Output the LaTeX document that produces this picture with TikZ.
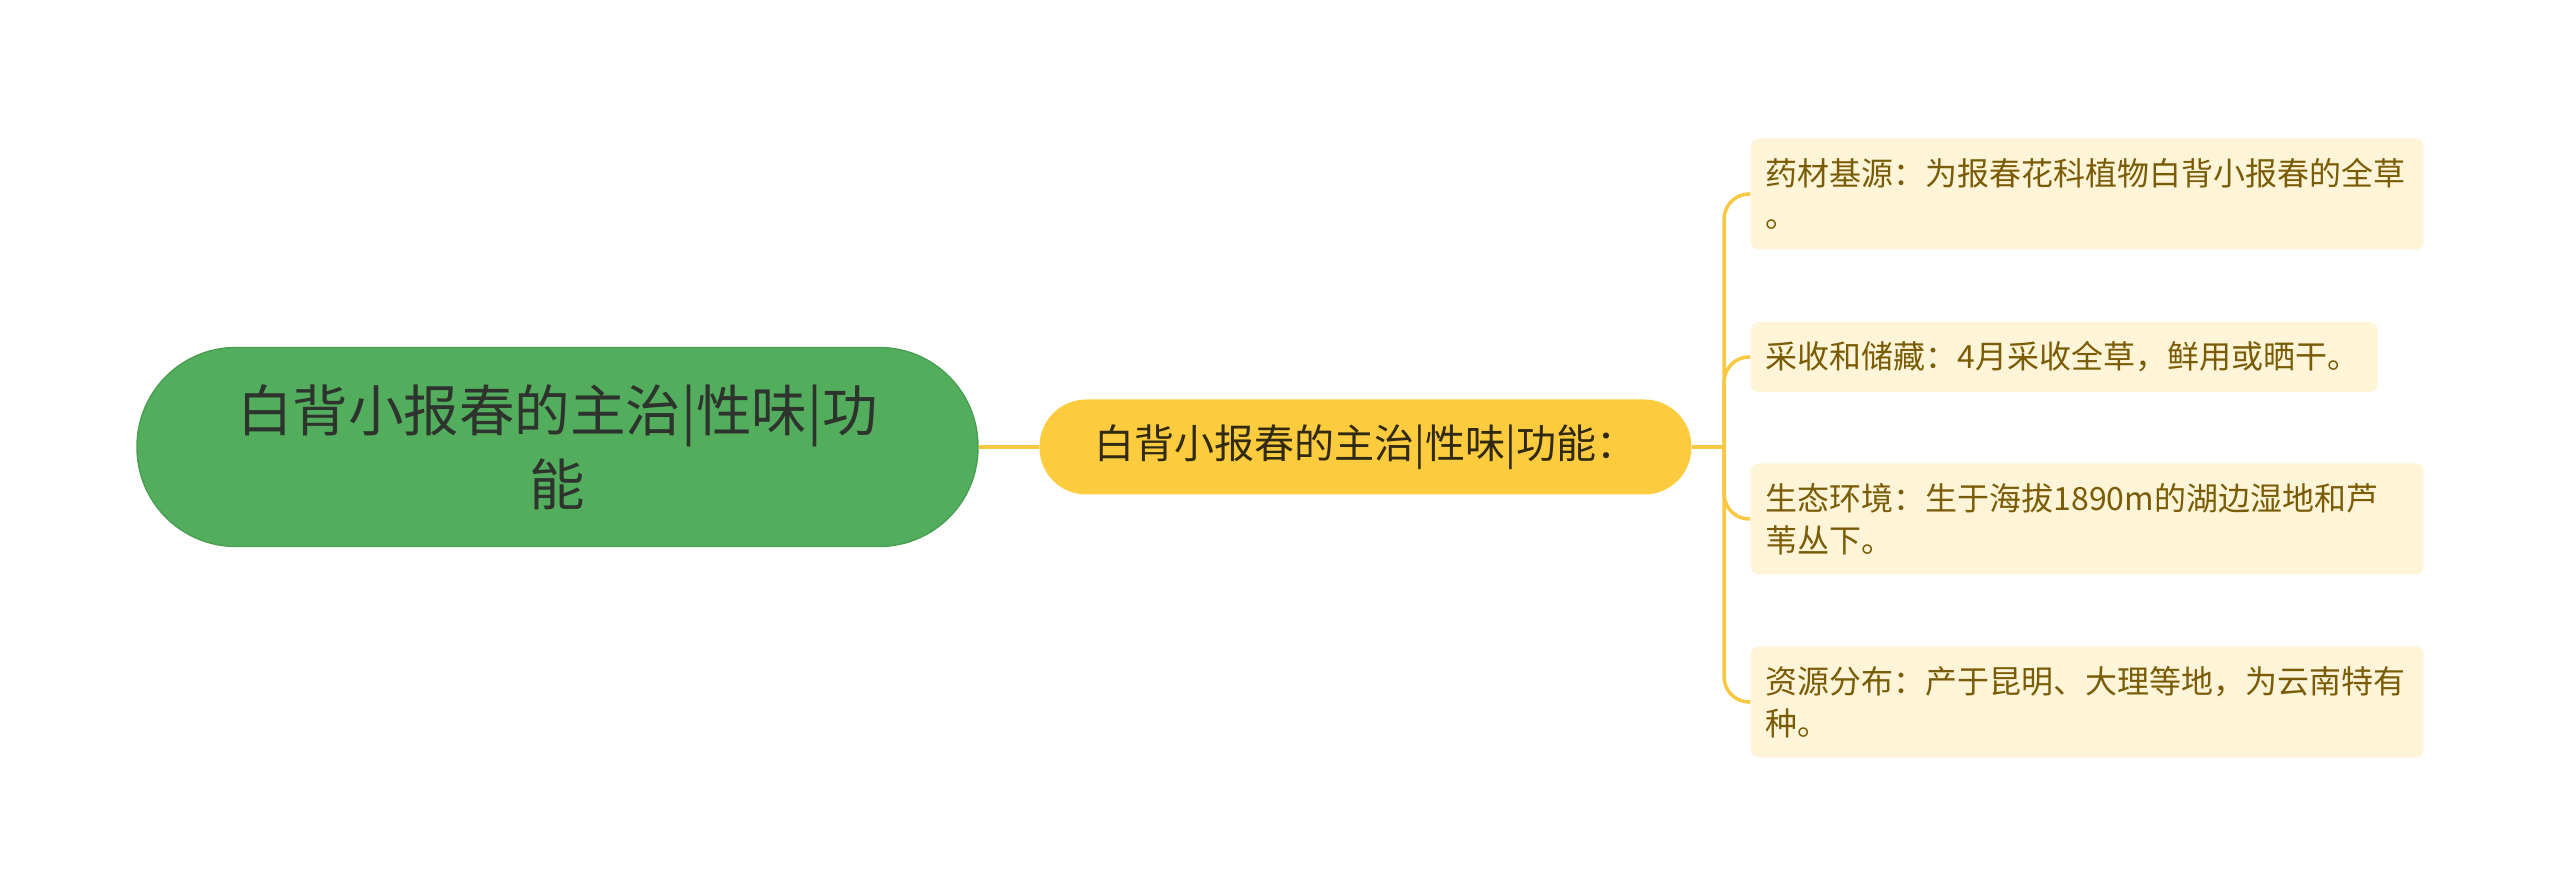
\documentclass[tikz,border=0pt]{standalone}
\usepackage{fontspec}
\setmainfont{Noto Sans CJK SC}
\usepackage{tikz}
\usetikzlibrary{positioning}
\definecolor{rootgreen}{HTML}{52AE5C}
\definecolor{rootline}{HTML}{4A9E53}
\definecolor{roottext}{HTML}{2E332E}
\definecolor{topicyellow}{HTML}{FDCB3E}
\definecolor{topictext}{HTML}{302A12}
\definecolor{leaffill}{HTML}{FEF4D8}
\definecolor{leaftext}{HTML}{7A5C06}
\definecolor{branchyellow}{HTML}{F8C842}
\tikzset{
  root_node/.style={rectangle, draw=rootline, fill=rootgreen, text=roottext, rounded corners=0.99cm, minimum width=8.41cm, minimum height=1.99cm, align=center, font=\fontsize{15.8pt}{21pt}\selectfont},
  topic_node/.style={rectangle, fill=topicyellow, text=topictext, rounded corners=0.47cm, minimum width=6.52cm, minimum height=0.95cm, align=center, font=\fontsize{11.4pt}{14pt}\selectfont},
  leaf_node/.style={rectangle, fill=leaffill, text=leaftext, rounded corners=0.08cm, inner xsep=0.15cm, inner ysep=0pt, align=left, anchor=west, font=\fontsize{9.1pt}{12pt}\selectfont},
  leaf_wide/.style={leaf_node, text width=6.43cm, minimum height=1.11cm},
  leaf_short/.style={leaf_node, text width=5.97cm, minimum height=0.70cm},
  branch/.style={-, line width=1pt, branchyellow},
  branch_leaf/.style={branch, rounded corners=0.25cm}
}

\begin{document}
\begin{tikzpicture}
  \useasboundingbox (0,0) rectangle (25.6,-8.96);

  % Main topic
  \node (root) [root_node] at (5.575,-4.47) {白背小报春的主治|性味|功\\能};
  \node (topic) [topic_node, right=0.6cm of root] {白背小报春的主治|性味|功能：};
  \coordinate[right=0.32cm of topic] (hub);

  % Leaves
  \node (source)  [leaf_wide]  at (17.5,-1.94) {药材基源：为报春花科植物白背小报春的全草\\。};
  \node (harvest) [leaf_short] at (17.5,-3.57) {采收和储藏：4月采收全草，鲜用或晒干。};
  \node (habitat) [leaf_wide]  at (17.5,-5.19) {生态环境：生于海拔1890m的湖边湿地和芦\\苇丛下。};
  \node (range)   [leaf_wide]  at (17.5,-7.02) {资源分布：产于昆明、大理等地，为云南特有\\种。};

  % Connections
  \draw [branch] (root) -- (topic);
  \draw [branch] (topic) -- (hub);
  \foreach \leaf in {source, harvest, habitat, range} {
    \draw [branch_leaf] (hub) |- (\leaf.west);
  }
\end{tikzpicture}
\end{document}
